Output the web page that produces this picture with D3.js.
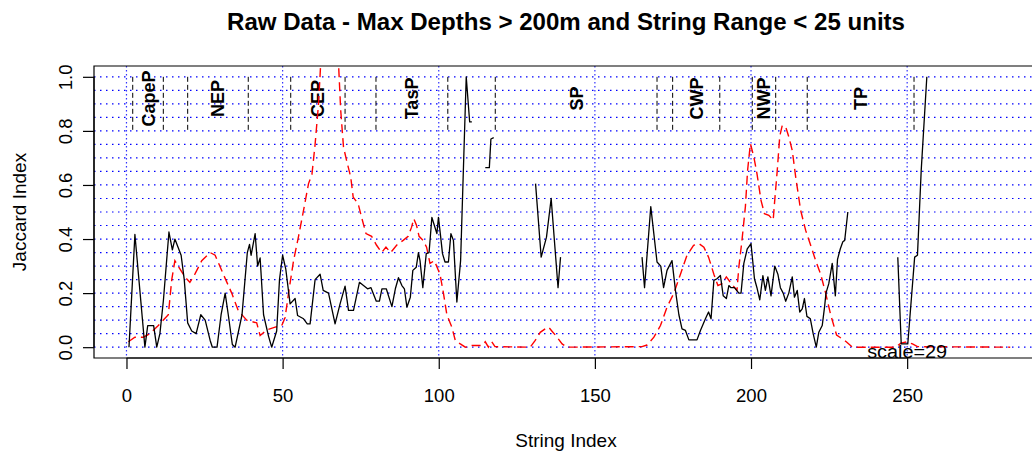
<!DOCTYPE html>
<html>
<head>
<meta charset="utf-8">
<script src="https://cdn.jsdelivr.net/npm/d3@7"></script>
<style>
  body { margin: 0; background: #fff; }
  svg { display: block; font-family: "Liberation Sans", Arial, sans-serif; }
</style>
</head>
<body>
<div id="chart"></div>
<script>
'use strict';

// raw series (black) - x positions and Jaccard values, null = missing
var blackX = [0.8, 2.7, 5.9, 6.8, 8.7, 9.7, 10.7, 11.8, 13.6, 14.7, 15.5, 17.5, 18.5, 19.6, 20.9, 22.3,
  23.8, 25.2, 26.8, 27.5, 29.0, 30.3, 31.6, 32.6, 33.9, 34.8, 37.0, 38.7, 39.4, 39.9, 41.2, 42.0,
  42.8, 43.9, 45.5, 46.5, 48.1, 49.0, 50.0, 51.0, 52.4, 54.0, 54.8, 56.7, 57.9, 58.8, 60.4, 62.0,
  63.0, 64.7, 66.8, 68.4, 70.0, 71.1, 72.7, 74.6, 75.9, 77.2, 78.3, 80.0, 81.0, 81.8, 83.2, 85.0,
  86.1, 87.1, 88.2, 89.0, 89.8, 90.9, 91.7, 92.8, 93.5, 94.0, 94.9, 96.0, 96.9, 97.8, 98.6, 99.4,
  99.9, 100.5, 101.2, 102.0, 103.1, 103.9, 104.7, 105.8, 107.0, 108.8, 109.9, 110.6, null,
  114.9, 116.2, 116.7, 117.6, null,
  131.0, 132.8, 134.5, 136.0, 137.2, 138.2, 139.0, null,
  165.1, 165.9, 167.9, 169.9, 171.1, 172.0, 173.1, 174.7, 175.8, 176.9, 177.9, 179.0, 180.1, 182.7,
  183.8, 185.4, 186.4, 187.2, 188.1, 189.1, 190.2, 191.1, 192.1, 192.9, 193.6, 194.7, 196.1, 196.8,
  197.7, 198.8, 200.0, 201.1, 201.9, 202.8, 203.8, 204.6, 205.4, 206.4, 207.6, 208.6, 209.4, 210.3,
  211.1, 212.1, 213.2, 213.9, 214.8, 215.6, 216.4, 217.1, 217.9, 219.0, 219.9, 220.9, 221.7, 222.8,
  223.6, 224.0, 224.9, 226.0, 227.0, 227.7, 228.6, 229.4, 230.0, 231.0, null,
  247.0, 248.1, 250.2, 252.4, 253.3, 254.5, 256.3];
var blackY = [0.0, 0.417, 0.0, 0.08, 0.08, 0.0, 0.05, 0.17, 0.426, 0.36, 0.40, 0.34, 0.25, 0.09, 0.06, 0.05,
  0.12, 0.10, 0.025, 0.0, 0.0, 0.12, 0.20, 0.12, 0.01, 0.0, 0.12, 0.35, 0.38, 0.34, 0.42, 0.30,
  0.33, 0.12, 0.04, 0.0, 0.06, 0.25, 0.34, 0.29, 0.16, 0.18, 0.117, 0.105, 0.086, 0.086, 0.25, 0.27,
  0.21, 0.20, 0.086, 0.16, 0.226, 0.136, 0.136, 0.24, 0.228, 0.216, 0.22, 0.17, 0.17, 0.216, 0.216, 0.15,
  0.216, 0.257, 0.228, 0.216, 0.148, 0.185, 0.284, 0.296, 0.35, 0.32, 0.22, 0.346, 0.35, 0.48, 0.45, 0.42,
  0.48, 0.42, 0.346, 0.315, 0.315, 0.42, 0.395, 0.167, 0.32, 1.0, 0.833, 0.833, null,
  0.664, 0.664, 0.77, 0.775, null,
  0.605, 0.333, 0.407, 0.55, 0.37, 0.22, 0.333, null,
  0.333, 0.22, 0.52, 0.315, 0.30, 0.22, 0.284, 0.32, 0.21, 0.12, 0.068, 0.062, 0.027, 0.027,
  0.062, 0.105, 0.13, 0.105, 0.247, 0.253, 0.265, 0.19, 0.18, 0.228, 0.22, 0.22, 0.2, 0.2,
  0.31, 0.364, 0.383, 0.253, 0.22, 0.175, 0.265, 0.21, 0.26, 0.19, 0.30, 0.27, 0.22, 0.2,
  0.17, 0.2, 0.26, 0.185, 0.21, 0.13, 0.142, 0.18, 0.114, 0.105, 0.05, 0.0, 0.055, 0.08,
  0.154, 0.2, 0.235, 0.31, 0.19, 0.325, 0.364, 0.39, 0.395, 0.5, null,
  0.333, 0.012, 0.012, 0.333, 0.34, 0.654, 1.0];

// scaled density (red dashed)
var redX = [0.6, 2.7, 5.4, 7.5, 10.2, 13.4, 14.5, 15.5, 17.1, 18.7, 20.3, 21.9, 24.1, 26.8, 28.4, 31.0,
  33.7, 35.8, 38.5, 41.7, 42.8, 44.9, 47.6, 49.7, 50.8, 51.9, 53.5, 55.1, 56.7, 58.3, 59.4, 60.4,
  61.5, 62.2, 65.0, 67.9, 68.6, 69.5, 70.5, 71.8, 72.6, 74.2, 75.3, 76.7, 78.5, 80.1, 81.7, 83.1,
  84.6, 86.5, 88.6, 90.2, 91.3, 92.0, 92.9, 93.7, 95.0, 96.1, 97.2, 98.6, 99.3, 100.4, 101.5, 102.6,
  104.2, 105.3, 106.9, 108.5, 110.6, 113.8, 114.9, 115.9, 117.0, 118.0, 129.3, 130.9, 132.5, 134.1,
  135.2, 136.2, 137.9, 139.5, 141.1, 165.1, 166.7, 168.9, 171.0, 173.1, 175.3, 177.4, 179.5, 181.6,
  183.3, 184.9, 186.4, 188.1, 189.4, 190.7, 192.1, 193.4, 195.5, 196.1, 197.1, 198.2, 198.9, 199.8,
  200.9, 201.9, 203.2, 204.3, 205.7, 207.1, 207.5, 208.4, 209.2, 210.0, 211.1, 212.1, 213.2, 214.3,
  215.9, 217.5, 219.1, 220.7, 222.3, 223.9, 225.5, 227.4, 230.5, 232.5, 246.3, 248.0, 250.0, 251.7,
  253.3, 283.0];
var redY = [0.02, 0.037, 0.037, 0.05, 0.08, 0.12, 0.25, 0.32, 0.29, 0.26, 0.24, 0.27, 0.32, 0.35, 0.34, 0.27,
  0.20, 0.135, 0.10, 0.09, 0.043, 0.064, 0.074, 0.08, 0.11, 0.2, 0.32, 0.41, 0.506, 0.605, 0.64, 0.75,
  0.9, 1.05, 1.35, 1.05, 0.877, 0.74, 0.69, 0.63, 0.555, 0.53, 0.48, 0.42, 0.41, 0.377, 0.35, 0.37,
  0.35, 0.377, 0.395, 0.41, 0.444, 0.475, 0.45, 0.41, 0.395, 0.37, 0.31, 0.32, 0.30, 0.27, 0.2, 0.12,
  0.074, 0.025, 0.012, 0.0, 0.006, 0.006, 0.02, 0.0, 0.02, 0.002, 0.0, 0.025, 0.055, 0.068,
  0.074, 0.06, 0.037, 0.012, 0.0, 0.002, 0.008, 0.037, 0.08, 0.148, 0.2, 0.27, 0.34, 0.377,
  0.383, 0.37, 0.333, 0.27, 0.228, 0.235, 0.26, 0.24, 0.21, 0.296, 0.395, 0.52, 0.654, 0.753,
  0.704, 0.642, 0.543, 0.494, 0.488, 0.47, 0.53, 0.654, 0.78, 0.82, 0.815, 0.778, 0.728, 0.63,
  0.506, 0.432, 0.377, 0.32, 0.27, 0.2, 0.12, 0.045, 0.02, 0.0, 0.0, 0.015, 0.02, 0.012,
  0.002, 0.0];

var regionNames = ["CapeP", "NEP", "CEP", "TasP", "SP", "CWP", "NWP", "TP"];
var regionStart = [2, 19.6, 52.6, 79.9, 118.1, 174.9, 200.4, 218];
var regionEnd = [11.8, 39, 70, 102.9, 169.9, 190, 207.9, 252.2];

var xTicks = [0, 50, 100, 150, 200, 250];
var yTicks = [0, 0.2, 0.4, 0.6, 0.8, 1.0];
var hGrid = d3.range(0, 1.0001, 0.05);

var width = 1032, height = 453;
var box = {left: 94, right: 1038, top: 66, bottom: 358};

var svg = d3.select("#chart")
  .append("svg")
  .attr("width", width)
  .attr("height", height);

var x = d3.scaleLinear().domain([-10.4, 291.9]).range([box.left, box.right]);
var y = d3.scaleLinear().domain([-0.04, 1.04]).range([box.bottom, box.top]);

svg.append("clipPath").attr("id", "clip")
  .append("rect")
  .attr("x", box.left).attr("y", box.top)
  .attr("width", box.right - box.left).attr("height", box.bottom - box.top);

var plot = svg.append("g").attr("clip-path", "url(#clip)");

// blue dotted grid
plot.selectAll(".hgrid").data(hGrid).enter().append("line")
  .attr("x1", box.left).attr("x2", box.right)
  .attr("y1", d => y(d)).attr("y2", d => y(d))
  .attr("stroke", "#0000ff").attr("stroke-width", 1.2)
  .attr("stroke-dasharray", "1.5,4.5");

plot.selectAll(".vgrid").data(xTicks).enter().append("line")
  .attr("x1", d => x(d)).attr("x2", d => x(d))
  .attr("y1", box.top).attr("y2", box.bottom)
  .attr("stroke", "#3333ff").attr("stroke-width", 1.2)
  .attr("stroke-dasharray", "1.5,2.5");

// region boundaries
var bounds = regionStart.concat(regionEnd);
plot.selectAll(".bound").data(bounds).enter().append("line")
  .attr("x1", d => x(d)).attr("x2", d => x(d))
  .attr("y1", y(1.0)).attr("y2", y(0.8))
  .attr("stroke", "#000").attr("stroke-width", 1)
  .attr("stroke-dasharray", "5,3");

var regions = regionNames.map((n, i) => ({name: n, mid: (regionStart[i] + regionEnd[i]) / 2}));
plot.selectAll(".region").data(regions).enter().append("text")
  .attr("transform", d => "translate(" + (x(d.mid) + 6.5) + "," + y(0.92) + ") rotate(-90)")
  .attr("text-anchor", "middle")
  .attr("font-size", 18)
  .attr("font-weight", "bold")
  .text(d => d.name);

// red dashed line
var redData = redX.map((v, i) => ({x: v, y: redY[i]}));
var blackData = blackX.map((v, i) => ({x: v, y: blackY[i]}));

var line = d3.line()
  .defined(d => d.y !== null)
  .x(d => x(d.x))
  .y(d => y(d.y));

plot.append("path")
  .datum(redData)
  .attr("fill", "none")
  .attr("stroke", "#ff0000")
  .attr("stroke-width", 1.4)
  .attr("stroke-dasharray", "9,5")
  .attr("d", line);

plot.append("path")
  .datum(blackData)
  .attr("fill", "none")
  .attr("stroke", "#000")
  .attr("stroke-width", 1.3)
  .attr("stroke-linejoin", "round")
  .attr("d", line);

// scale annotation
svg.append("text")
  .attr("x", x(250)).attr("y", 357.5)
  .attr("text-anchor", "middle")
  .attr("font-size", 18)
  .attr("textLength", 80).attr("lengthAdjust", "spacingAndGlyphs")
  .text("scale=29");

// box
svg.append("path")
  .attr("d", "M" + box.right + "," + box.top + "H" + box.left + "V" + box.bottom + "H" + box.right)
  .attr("fill", "none").attr("stroke", "#000").attr("stroke-width", 1.2);

// x axis
var gx = svg.append("g")
  .attr("transform", "translate(0," + box.bottom + ")")
  .call(d3.axisBottom(x).tickValues(xTicks).tickSize(11).tickSizeOuter(0));
gx.select(".domain").attr("d", "M" + x(0) + ",0H" + x(250)).attr("stroke-width", 1.2);
gx.selectAll("line").attr("stroke-width", 1.2);
gx.selectAll("text")
  .attr("y", 43.5).attr("dy", null)
  .attr("font-size", 18.5)
  .attr("font-family", "Liberation Sans, Arial, sans-serif")
  .attr("fill", "#000");

// y axis
var gy = svg.append("g")
  .attr("transform", "translate(" + box.left + ",0)")
  .call(d3.axisLeft(y).tickValues(yTicks).tickFormat(d3.format(".1f")).tickSize(11).tickSizeOuter(0));
gy.select(".domain").attr("d", "M0," + y(0) + "V" + y(1)).attr("stroke-width", 1.2);
gy.selectAll("line").attr("stroke-width", 1.2);
gy.selectAll("text")
  .attr("x", null).attr("dy", null)
  .attr("transform", "translate(-22.5,0) rotate(-90)")
  .attr("text-anchor", "middle")
  .attr("font-size", 18.5)
  .attr("font-family", "Liberation Sans, Arial, sans-serif")
  .attr("fill", "#000");

// titles
svg.append("text")
  .attr("x", 566).attr("y", 30)
  .attr("text-anchor", "middle")
  .attr("font-size", 23)
  .attr("font-weight", "bold")
  .attr("textLength", 678).attr("lengthAdjust", "spacingAndGlyphs")
  .text("Raw Data - Max Depths > 200m and String Range < 25 units");

svg.append("text")
  .attr("x", 566).attr("y", 447)
  .attr("text-anchor", "middle")
  .attr("font-size", 19)
  .text("String Index");

svg.append("text")
  .attr("transform", "translate(25.5," + ((box.top + box.bottom) / 2) + ") rotate(-90)")
  .attr("text-anchor", "middle")
  .attr("font-size", 19)
  .text("Jaccard Index");
</script>
</body>
</html>
